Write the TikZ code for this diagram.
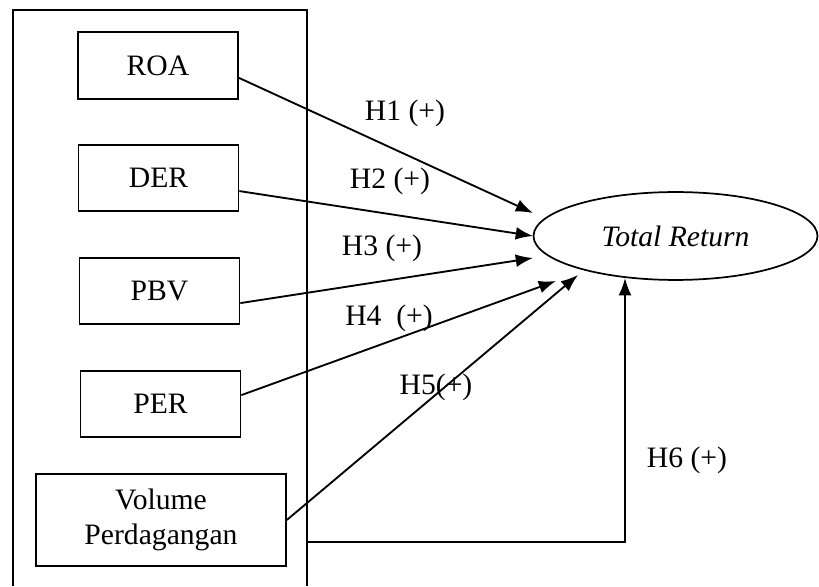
\documentclass[tikz,border=0pt]{standalone}
\usepackage{fontspec}
\setmainfont{Liberation Serif}
\usetikzlibrary{shapes.geometric,arrows.meta}
\begin{document}
\begin{tikzpicture}[x=0.405pt,y=-0.405pt,
  every node/.style={font=\fontsize{12}{14.2}\selectfont},
  varbox/.style={draw,line width=0.7pt,minimum width=64.8pt,minimum height=27pt,inner sep=0pt},
  target/.style={draw,ellipse,line width=0.7pt,minimum width=115pt,minimum height=35.6pt,inner sep=0pt},
  hyp/.style={-{Latex[length=7pt,width=5.2pt]},line width=0.75pt}]
\useasboundingbox (0,0) rectangle (819,586);
\draw[line width=0.7pt] (13,586) |- (307,10) -- (307,586); % edit here for the frame
% independent variables
\node[varbox] (roa) at (158,65.5) {ROA};
\node[varbox] (der) at (158.5,178) {DER};
\node[varbox] (pbv) at (159.5,291) {PBV};
\node[varbox] (per) at (160.5,404) {PER};
\node[varbox,minimum width=101.2pt,minimum height=37.3pt,align=center] (vol) at (161,520) {Volume\\Perdagangan};
% dependent variable
\node[target] (tr) at (675.5,236) {\itshape Total Return};
% edit here for the arrow ends
\coordinate (t1) at (533,213);
\coordinate (t2) at (533,236);
\coordinate (t3) at (533,258);
\coordinate (t4) at (556,281);
\coordinate (t5) at (578,275);
\coordinate (t6) at (625,278);
\coordinate (h6) at (307,542);
\draw[hyp] ([yshift=-5pt]roa.east) -- (t1);
\draw[hyp] ([yshift=-5.3pt]der.east) -- (t2);
\draw[hyp] ([yshift=-4.9pt]pbv.east) -- (t3);
\draw[hyp] ([yshift=3.6pt]per.east) -- (t4);
\draw[hyp] (vol.east) -- (t5);
\draw[hyp] (h6) -| (t6);
% hypothesis labels
\node (lh1) at (405,113) {H1 (+)};
\node (lh2) at (390,181) {H2 (+)};
\node (lh3) at (382,248) {H3 (+)};
\node (lh4) at (389,318) {H4\ \ (+)};
\node (lh5) at (436,387) {H5(+)};
\node (lh6) at (687,460) {H6 (+)};
\end{tikzpicture}
\end{document}
